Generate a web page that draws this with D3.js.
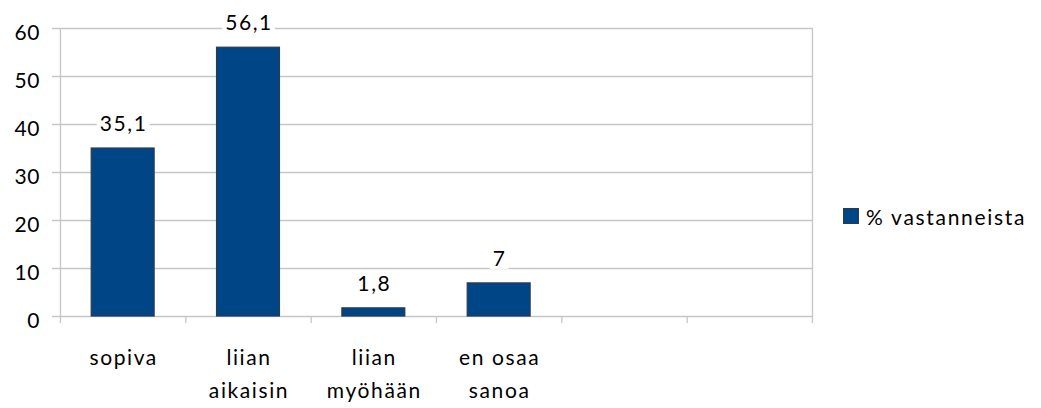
<!DOCTYPE html>
<html>
<head>
<meta charset="utf-8">
<script src="https://cdn.jsdelivr.net/npm/d3@7"></script>
<style>
  html, body { margin: 0; padding: 0; background: #fff; }
  svg { display: block; font-family: Lato, "Open Sans", sans-serif; }
</style>
</head>
<body>
<svg id="chart" width="1041" height="408"></svg>
<script>
// Answer categories (two trailing empty slots keep the axis width)
const categories = [["sopiva"], ["liian", "aikaisin"], ["liian", "myöhään"], ["en osaa", "sanoa"], [""], [""]];
const categoryKeys = ["sopiva", "liian aikaisin", "liian myöhään", "en osaa sanoa", "tyhjä1", "tyhjä2"];
const values = [35.1, 56.1, 1.8, 7, null, null];
const valueLabels = ["35,1", "56,1", "1,8", "7", "", ""];
const yTicks = [0, 10, 20, 30, 40, 50, 60];
const seriesName = "% vastanneista";

const svg = d3.select("#chart");
const plotLeft = 60, plotRight = 812, plotTop = 28, plotBottom = 316;

const x = d3.scaleBand().domain(categoryKeys).range([plotLeft, plotRight]).paddingInner(0.49).paddingOuter(0.245);
const xCat = d3.scaleBand().domain(categoryKeys).range([plotLeft, plotRight]);
const y = d3.scaleLinear().domain([0, 60]).range([plotBottom, plotTop]);

const grid = "#c6c6c6";

// horizontal gridlines with small ticks to the left of the axis
svg.append("g").selectAll("line").data(yTicks).join("line")
  .attr("x1", plotLeft - 8).attr("x2", plotRight)
  .attr("y1", d => y(d) + 0.5).attr("y2", d => y(d) + 0.5)
  .attr("stroke", grid).attr("stroke-width", 1.3);

// vertical axis and right border
[plotLeft, plotRight].forEach(px => {
  svg.append("line").attr("x1", px + 0.5).attr("x2", px + 0.5)
    .attr("y1", plotTop).attr("y2", plotBottom + 7)
    .attr("stroke", grid).attr("stroke-width", 1.3);
});

// category separator ticks below the baseline
svg.append("g").selectAll("line").data(categoryKeys.slice(1)).join("line")
  .attr("x1", d => xCat(d) + 0.5).attr("x2", d => xCat(d) + 0.5)
  .attr("y1", plotBottom).attr("y2", plotBottom + 7)
  .attr("stroke", grid).attr("stroke-width", 1.3);

// y tick labels
svg.append("g").selectAll("text").data(yTicks).join("text")
  .attr("x", 40).attr("y", d => y(d) + 11.5)
  .attr("text-anchor", "end")
  .attr("font-size", 21).attr("letter-spacing", 0.6).attr("fill", "#000")
  .text(d => d);

// bars
const barData = categoryKeys.map((k, i) => ({ k, v: values[i], label: valueLabels[i] })).filter(d => d.v != null);
svg.append("g").selectAll("rect").data(barData).join("rect")
  .attr("x", d => x(d.k) + 0.5)
  .attr("y", d => y(d.v) + 0.5)
  .attr("width", x.bandwidth() - 1)
  .attr("height", d => y(0) - y(d.v) - 0.5)
  .attr("fill", "#004586")
  .attr("stroke", "#2b3a4c").attr("stroke-width", 1.2);

// value labels on a white backing
const vl = svg.append("g").selectAll("g").data(barData).join("g")
  .attr("transform", d => `translate(${x(d.k) + x.bandwidth() / 2 + 1},${y(d.v) - 16.5})`);
vl.append("text")
  .attr("text-anchor", "middle")
  .attr("font-size", 21).attr("letter-spacing", 1.6).attr("fill", "#000")
  .text(d => d.label);
vl.each(function () {
  const g = d3.select(this);
  const bb = g.select("text").node().getBBox();
  g.insert("rect", "text")
    .attr("x", bb.x - 3).attr("y", bb.y + 2)
    .attr("width", bb.width + 5).attr("height", bb.height - 3)
    .attr("fill", "#fff");
});

// category labels (two lines)
const cl = svg.append("g").selectAll("text").data(categoryKeys).join("text")
  .attr("text-anchor", "middle")
  .attr("font-size", 21).attr("letter-spacing", 1.6).attr("fill", "#000");
cl.each(function (d, i) {
  d3.select(this).selectAll("tspan").data(categories[i]).join("tspan")
    .attr("x", xCat(d) + xCat.bandwidth() / 2 + 1)
    .attr("y", (t, j) => 365 + j * 33)
    .text(t => t);
});

// legend
const legend = svg.append("g");
legend.append("rect").attr("x", 843.5).attr("y", 208.5).attr("width", 15).attr("height", 15)
  .attr("fill", "#004586").attr("stroke", "#2b3a4c").attr("stroke-width", 1);
legend.append("text").attr("x", 866).attr("y", 225)
  .attr("font-size", 21).attr("letter-spacing", 1.7).attr("fill", "#000")
  .text(seriesName);
</script>
</body>
</html>
